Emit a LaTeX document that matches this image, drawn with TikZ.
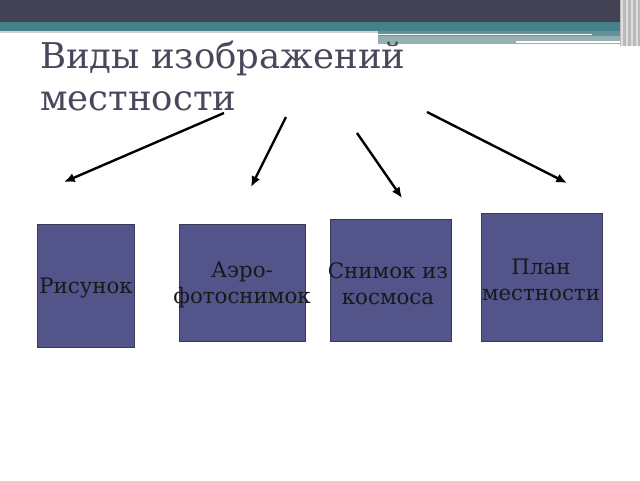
\documentclass[tikz,border=0pt]{standalone}
\usepackage{fontspec}
\setmainfont{DejaVu Serif}
\usetikzlibrary{arrows.meta}

\definecolor{darkbar}{RGB}{66,66,84}
\definecolor{tealbar}{RGB}{70,128,136}
\definecolor{tealpale}{RGB}{150,176,178}
\definecolor{boxfill}{RGB}{83,84,138}
\definecolor{boxline}{RGB}{58,58,88}
\definecolor{titlegray}{RGB}{72,72,92}

\tikzset{
  vidbox/.style={draw=boxline, line width=0.6pt, fill=boxfill, inner sep=0pt},
  vidtext/.style={inner sep=0pt, align=center, text=black!90, font=\fontsize{16}{19.5}\selectfont},
  vidarrow/.style={line width=1.8pt, -{Latex[length=8pt,width=7pt]}}
}

\begin{document}
\begin{tikzpicture}[x=0.75pt,y=0.75pt,yscale=-1,xscale=1]
        \useasboundingbox (0,0) rectangle (640,480);
        \fill[white] (0,0) rectangle (640,480);

        %Shape: Rectangle [id:topbar]
        \fill[darkbar] (0,0) rectangle (640,22);
        %Shape: Rectangle [id:tealbar]
        \fill[tealbar] (0,22) rectangle (640,30.5);
        \fill[gray!35] (0,30.5) rectangle (378,33);
        %Shape: Rectangle [id:rightstrip]
        \fill[tealbar!85!white] (378,30.5) rectangle (620,36);
        \fill[tealpale] (378,36) rectangle (630,44);
        \draw[white, line width=1.2pt] (378,34.5) -- (592,34.5);
        \draw[white, line width=1.2pt] (516,42) -- (628,42);
        %Shape: Rectangle [id:corner]
        \fill[gray!55] (620,0) rectangle (640,46);
        \foreach \xs in {622,627,632,637}
          \draw[white!75!gray, line width=0.8pt] (\xs,0) -- (\xs,46);

        % Text Node
        \node[anchor=base west, inner sep=0pt, align=left, text=titlegray,
              font=\fontsize{26.6}{31.5}\selectfont] (title) at (40,110)
              {Виды изображений\\местности};

        %Shape: Rectangle [id:ris]
        \node[vidbox, minimum width=72.75pt, minimum height=92.25pt] (ris) at (85.5,285.5) {};
        %Shape: Rectangle [id:aero]
        \node[vidbox, minimum width=94.5pt, minimum height=87.75pt] (aero) at (242,282.5) {};
        %Shape: Rectangle [id:kosm]
        \node[vidbox, minimum width=90.75pt, minimum height=91.5pt] (kosm) at (390.5,280) {};
        %Shape: Rectangle [id:plan]
        \node[vidbox, minimum width=90.75pt, minimum height=96pt] (plan) at (541.5,277) {};

        % Text Node
        \node[vidtext] (ristext) at (86,288) {Рисунок};
        % Text Node
        \node[vidtext] (aerotext) at (242,285) {Аэро-\\фотоснимок};
        % Text Node
        \node[vidtext] (kosmtext) at (388,284) {Снимок из\\космоса};
        % Text Node
        \node[vidtext] (plantext) at (541,280) {План\\местности};

        % arrow ends
        \coordinate (a1) at (224,113);
        \coordinate (b1) at (64,182);
        \coordinate (a2) at (286,117);
        \coordinate (b2) at (251,187);
        \coordinate (a3) at (357,133);
        \coordinate (b3) at (402,198);
        \coordinate (a4) at (427,112);
        \coordinate (b4) at (567,183);

        %Straight Lines
        \draw[vidarrow] (a1) -- (b1);
        \draw[vidarrow] (a2) -- (b2);
        \draw[vidarrow] (a3) -- (b3);
        \draw[vidarrow] (a4) -- (b4);

\end{tikzpicture}
\end{document}
